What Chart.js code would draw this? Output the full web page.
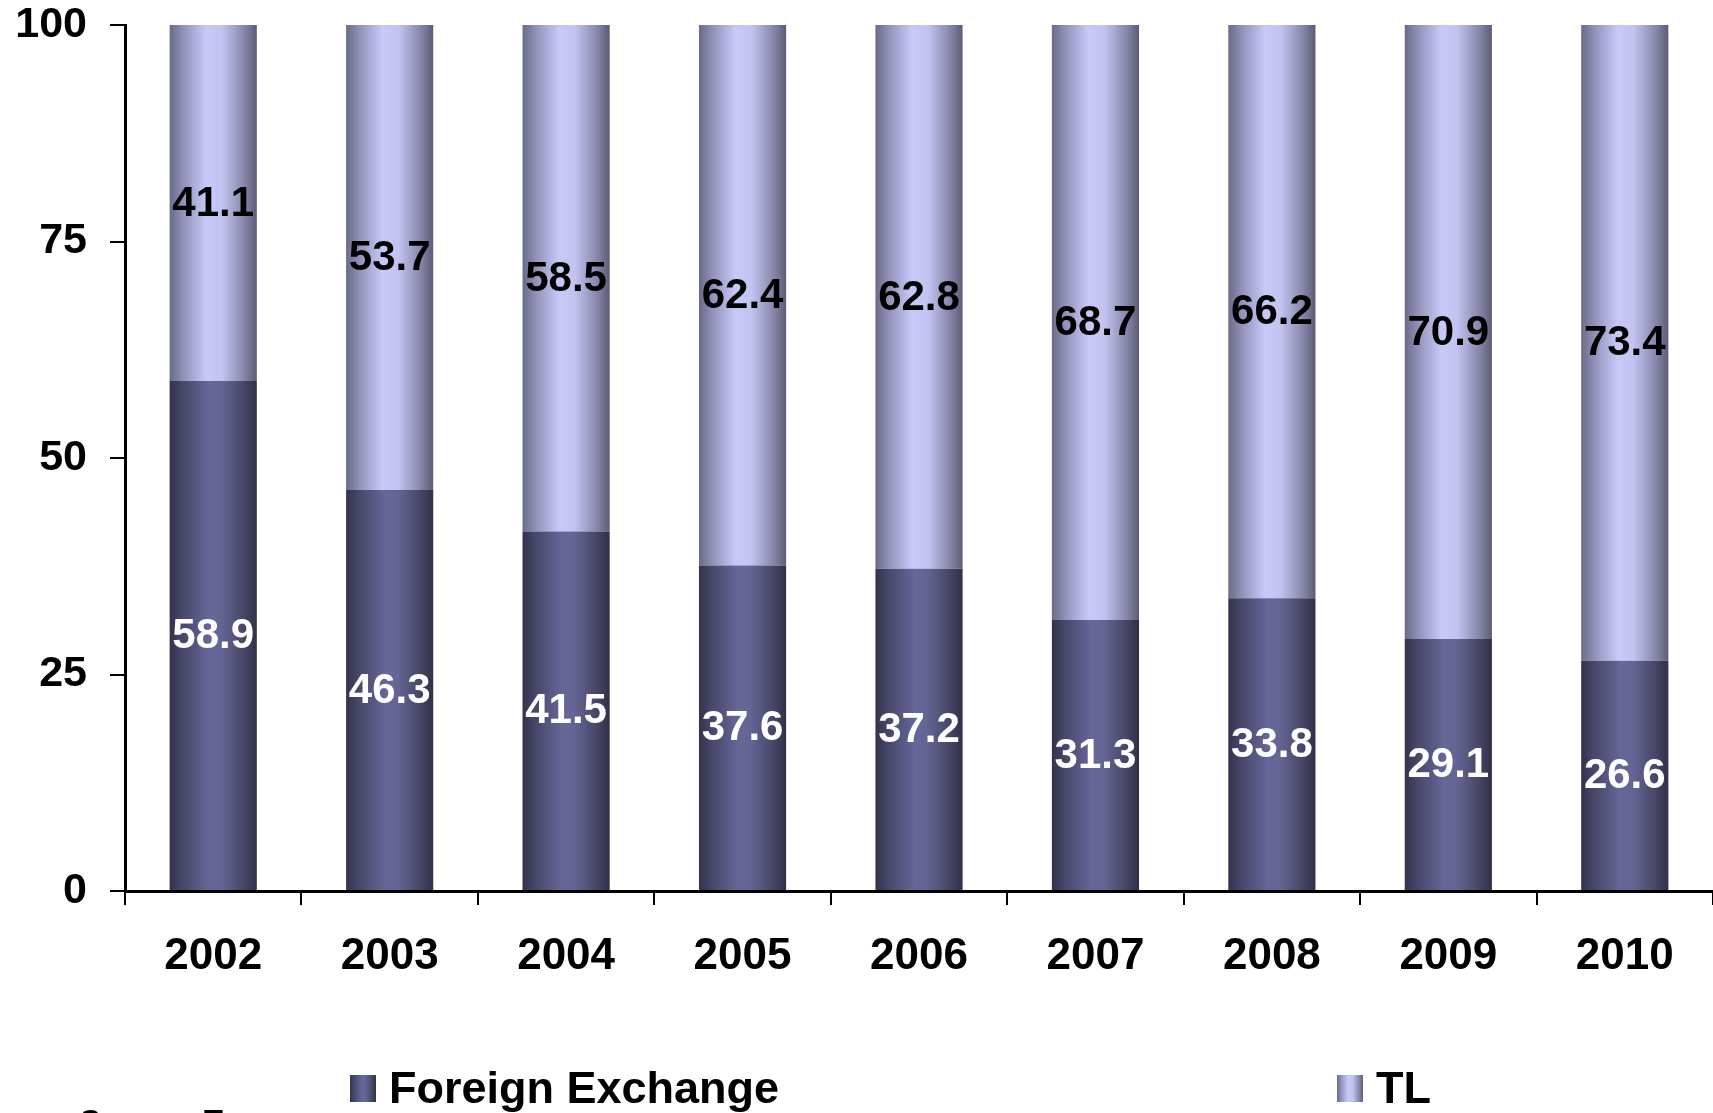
<!DOCTYPE html>
<html>
<head>
<meta charset="utf-8">
<script src="https://cdn.jsdelivr.net/npm/chart.js@4.4.1/dist/chart.umd.min.js"></script>
<style>
  html, body { margin: 0; padding: 0; background: #fff; overflow: hidden; }
  #wrap { position: relative; width: 1713px; height: 1113px; }
  #legend { position: absolute; left: 0; top: 0; width: 1713px; height: 1113px; pointer-events: none;
            font-family: "Liberation Sans", Arial, sans-serif; font-weight: bold; color: #000; }
  .item { position: absolute; top: 1066px; height: 44px; display: flex; align-items: center; font-size: 45px; line-height: 44px; white-space: nowrap; }
  .box { width: 26px; height: 27px; margin-right: 13px; }
  #source { position: absolute; left: 80px; top: 1106px; font-family: "Liberation Sans", Arial, sans-serif; font-weight: bold; font-size: 31px; line-height: 31px; white-space: nowrap; color: #000; }
</style>
</head>
<body>
<div id="wrap">
  <canvas id="c" width="1713" height="1113"></canvas>
  <div id="legend">
    <div class="item" style="left:350px"><div class="box" id="boxFX"></div><span id="labFX"></span></div>
    <div class="item" style="left:1337px"><div class="box" id="boxTL"></div><span id="labTL"></span></div>
  </div>
  <div id="source">Source: Treasury</div>
</div>
<script>
// ---- data ----
const categories = ['2002', '2003', '2004', '2005', '2006', '2007', '2008', '2009', '2010'];
const foreignExchange = [58.9, 46.3, 41.5, 37.6, 37.2, 31.3, 33.8, 29.1, 26.6];
const tl = [41.1, 53.7, 58.5, 62.4, 62.8, 68.7, 66.2, 70.9, 73.4];
const seriesNames = ['Foreign Exchange', 'TL'];
const yTicks = [0, 25, 50, 75, 100];

// ---- styles ----
const FONT = '"Liberation Sans", Arial, sans-serif';
const BAR_PCT = 0.494;
const fxStops = [[0, '#33334c'], [0.15, '#47476b'], [0.45, '#666698'], [0.6, '#646494'], [0.85, '#464666'], [1, '#303048']];
const tlStops = [[0, '#6a6a88'], [0.15, '#9090b8'], [0.42, '#c9c9f9'], [0.6, '#c3c3f1'], [0.85, '#8888ac'], [1, '#5c5c76']];

function cssGrad(stops) {
  return 'linear-gradient(to right, ' + stops.map(s => s[1] + ' ' + (s[0] * 100) + '%').join(', ') + ')';
}
document.getElementById('boxFX').style.background = cssGrad(fxStops);
document.getElementById('boxTL').style.background = cssGrad(tlStops);
document.getElementById('labFX').textContent = seriesNames[0];
document.getElementById('labTL').textContent = seriesNames[1];

function barGradient(stops) {
  return (ctx) => {
    const chart = ctx.chart;
    const xs = chart.scales && chart.scales.x;
    if (!chart.chartArea || !xs || ctx.type !== 'data') return stops[2][1];
    const cx = xs.getPixelForValue(ctx.dataIndex);
    const half = (xs.width / categories.length) * BAR_PCT / 2;
    const g = chart.ctx.createLinearGradient(cx - half, 0, cx + half, 0);
    stops.forEach(s => g.addColorStop(s[0], s[1]));
    return g;
  };
}

const labelPlugin = {
  id: 'barLabels',
  afterDatasetsDraw(chart) {
    const c = chart.ctx;
    c.save();
    c.font = 'bold 42px ' + FONT;
    c.textAlign = 'center';
    c.textBaseline = 'middle';
    chart.data.datasets.forEach((ds, di) => {
      const meta = chart.getDatasetMeta(di);
      meta.data.forEach((el, i) => {
        const y = (el.y + el.base) / 2;
        c.fillStyle = di === 0 ? '#ffffff' : '#000000';
        c.fillText(ds.data[i].toFixed(1), el.x, y + 1);
      });
    });
    c.restore();
  }
};

new Chart(document.getElementById('c'), {
  type: 'bar',
  data: {
    labels: categories,
    datasets: [
      { label: seriesNames[0], data: foreignExchange, backgroundColor: barGradient(fxStops), borderWidth: 0 },
      { label: seriesNames[1], data: tl, backgroundColor: barGradient(tlStops), borderWidth: 0 }
    ]
  },
  options: {
    responsive: false,
    animation: false,
    events: [],
    layout: { padding: { top: 25, right: 0, bottom: 0, left: 0 } },
    datasets: { bar: { categoryPercentage: 1.0, barPercentage: BAR_PCT } },
    plugins: { legend: { display: false }, tooltip: { enabled: false } },
    scales: {
      x: {
        stacked: true,
        afterFit(scale) { scale.height = 222; },
        grid: { drawOnChartArea: false, drawTicks: true, tickLength: 14, color: '#000', lineWidth: 2, offset: true },
        border: { display: true, color: '#000', width: 3 },
        ticks: { color: '#000', font: { family: FONT, size: 44, weight: 'bold', lineHeight: 1.2 }, padding: 25, maxRotation: 0, autoSkip: false }
      },
      y: {
        stacked: true,
        min: 0, max: 100,
        afterFit(scale) { scale.width = 125; scale.paddingTop = 0; scale.paddingBottom = 0; },
        afterBuildTicks(scale) { scale.ticks = yTicks.map(v => ({ value: v })); },
        grid: { drawOnChartArea: false, drawTicks: true, tickLength: 15, color: '#000', lineWidth: 2 },
        border: { display: true, color: '#000', width: 3 },
        ticks: { color: '#000', font: { family: FONT, size: 43, weight: 'bold', lineHeight: 1.0 }, padding: 23 }
      }
    }
  },
  plugins: [labelPlugin]
});
</script>
</body>
</html>
